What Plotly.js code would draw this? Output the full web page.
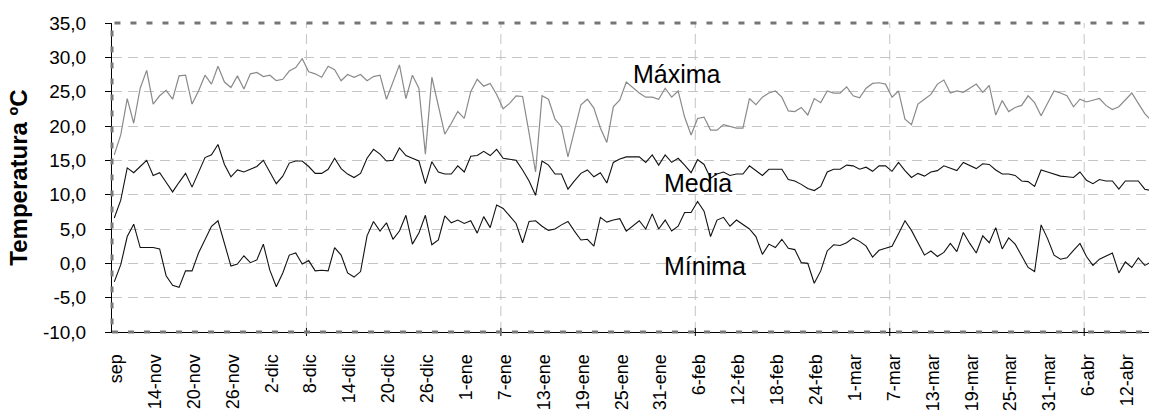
<!DOCTYPE html>
<html><head><meta charset="utf-8">
<script src="https://cdn.plot.ly/plotly-3.0.1.min.js"></script>
<style>html,body{margin:0;padding:0;background:#fff;}#chart{width:1149px;height:412px;}</style>
</head><body><div id="chart"></div>
<script>
// Day index from first date (labelled "sep")
const maxima = [15.8,18.7,24.0,20.4,25.5,28.1,23.2,24.4,25.2,23.9,
27.3,27.4,23.2,25.1,27.4,26.1,28.7,26.4,25.6,27.3,
25.4,27.6,27.8,27.2,27.4,26.6,26.8,28.0,28.5,29.8,
27.9,27.6,27.1,28.7,28.2,26.6,27.5,27.1,27.5,26.6,
27.2,27.4,23.9,26.4,28.9,24.0,27.4,25.5,15.9,27.1,
23.0,18.8,20.4,22.1,21.1,25.0,26.8,25.8,26.2,24.6,
22.5,23.3,24.4,24.3,19.0,13.3,24.4,23.9,21.0,19.9,
15.5,19.3,23.1,23.9,22.6,19.7,17.6,22.8,23.8,26.4,
25.6,24.8,24.2,24.2,23.9,25.5,24.2,25.1,21.3,18.7,
21.1,21.3,19.4,19.4,20.2,20.0,19.7,19.7,24.0,23.1,
24.2,24.8,25.1,24.2,22.2,22.1,22.7,21.6,24.0,23.4,
25.1,24.8,24.8,25.7,24.4,24.1,25.5,26.2,26.3,26.1,
24.2,25.1,21.0,20.2,23.2,23.9,24.6,26.1,26.7,24.8,
25.1,24.9,25.5,26.1,24.9,25.9,21.6,23.7,22.1,22.7,
23.0,24.4,23.4,21.5,23.3,25.1,24.8,24.4,22.8,23.9,
23.5,23.7,24.0,23.0,22.4,22.8,23.8,24.8,23.3,21.8,20.8];

const media = [6.6,9.2,13.9,13.2,14.1,15.0,12.8,13.2,11.8,10.4,
11.8,13.1,11.1,13.3,15.4,15.8,17.3,14.4,12.6,13.6,
13.3,13.7,14.1,15.0,13.3,11.6,12.7,14.6,14.9,14.9,
14.1,13.1,13.1,13.7,15.3,13.8,13.0,12.5,13.1,15.3,
16.6,15.9,14.9,15.0,16.8,15.7,15.3,14.9,11.6,14.8,
13.3,13.0,13.0,14.2,13.3,15.6,15.7,16.3,15.7,16.6,
15.3,15.1,15.0,13.6,12.0,9.9,14.9,14.3,13.0,13.0,
10.8,12.0,13.1,13.6,12.6,13.2,11.7,14.7,15.2,15.5,
15.5,15.5,14.7,15.8,14.3,15.8,14.7,15.3,14.3,13.2,
15.1,14.4,12.4,13.0,13.3,12.8,13.0,13.0,14.2,13.5,
12.8,13.7,13.7,13.7,12.2,12.0,11.5,10.9,10.6,11.2,
13.3,13.7,13.7,14.3,14.2,13.7,14.0,13.4,14.2,14.2,
13.4,14.7,13.5,12.5,13.1,12.7,13.3,13.5,14.2,13.8,
13.5,14.7,14.3,13.8,14.5,14.4,13.6,13.0,13.0,12.8,
12.0,11.9,11.2,13.6,13.3,13.0,12.7,12.6,12.5,13.3,
12.1,11.6,12.2,12.0,12.0,10.8,12.0,12.0,12.0,10.8,10.6];

const minima = [-2.7,-0.2,3.9,5.7,2.3,2.3,2.3,2.1,-1.8,-3.2,
-3.5,-1.1,-1.1,1.5,3.4,5.4,6.2,2.8,-0.4,-0.1,
1.1,0.1,0.5,2.8,-1.0,-3.4,-1.4,1.2,1.5,-0.1,
0.4,-1.1,-1.0,-1.1,2.3,1.2,-1.4,-2.0,-1.2,4.0,
6.1,4.7,5.9,3.5,4.7,7.0,2.8,4.4,7.0,2.7,
3.4,6.9,5.9,6.3,5.8,6.2,4.4,6.8,5.2,8.5,
8.0,6.9,5.8,3.0,6.1,6.2,5.4,4.8,5.0,5.6,
6.1,4.7,3.4,3.5,2.5,6.7,6.0,6.3,6.5,4.7,
5.5,6.2,5.0,7.2,5.0,6.3,4.7,5.4,7.4,7.4,
9.0,7.6,3.9,6.3,6.7,5.4,6.3,5.6,5.0,3.9,
1.3,2.8,2.3,3.5,2.2,2.0,0.1,0.0,-2.9,-1.1,
1.8,2.7,2.6,3.0,3.7,3.2,2.5,0.9,1.9,2.2,
2.5,4.3,6.2,4.8,3.1,1.2,1.8,1.0,1.6,2.9,
1.7,4.5,2.9,1.5,4.0,3.0,5.2,2.1,3.7,2.8,
1.1,-0.6,-1.2,5.6,3.6,1.2,0.6,0.8,1.9,2.9,
1.0,-0.3,0.6,1.0,1.5,-1.4,0.2,-0.6,0.8,-0.3,0.2];

const tickLabels = ["sep","14-nov","20-nov","26-nov","2-dic","8-dic","14-dic","20-dic","26-dic",
"1-ene","7-ene","13-ene","19-ene","25-ene","31-ene","6-feb","12-feb","18-feb","24-feb",
"1-mar","7-mar","13-mar","19-mar","25-mar","31-mar","6-abr","12-abr"];
const yTickValues = [-10, -5, 0, 5, 10, 15, 20, 25, 30, 35];
const yTickLabels = yTickValues.map(v => v.toFixed(1).replace(".", ","));
const tickStep = 6;      // days between labels
const gridStep = 30;     // days between vertical gridlines
const seriesNames = ["Máxima","Media","Mínima"];

const days = maxima.map((_, i) => i);
const off = -0.35;       // axis starts slightly before first day
const xEnd = 160 + off;
const labelShift = 0.65; // labels sit a little right of the tick
const tickVals = tickLabels.map((_, i) => i * tickStep + off + labelShift);
const gridVals = [];
for (let d = gridStep; d <= 160; d += gridStep) gridVals.push(d + off);

const font = "Liberation Sans, Arial, sans-serif";
const traces = [
  {x: days, y: maxima, name: seriesNames[0], mode: "lines", line: {color: "#8a8a8a", width: 1.2}},
  {x: days, y: media, name: seriesNames[1], mode: "lines", line: {color: "#111", width: 1.1}},
  {x: days, y: minima, name: seriesNames[2], mode: "lines", line: {color: "#111", width: 1.1}}
];

const shapes = [];
gridVals.forEach(v => {
  shapes.push({type: "line", xref: "x", yref: "paper", x0: v, x1: v, y0: 0, y1: 1,
    line: {color: "#c4c4c4", width: 1, dash: "10px,6px"}, layer: "below"});
  shapes.push({type: "line", xref: "x", yref: "paper", x0: v, x1: v, y0: -0.013, y1: 0.013,
    line: {color: "#000", width: 1}, layer: "above"});
});
shapes.push({type: "rect", xref: "paper", yref: "paper", x0: 0, x1: 1.02, y0: 0, y1: 1,
  line: {color: "#777", width: 3, dash: "6px,10px"}, layer: "above"});

const layout = {
  width: 1149, height: 412,
  margin: {l: 112, r: 0, t: 23, b: 80, autoexpand: false},
  paper_bgcolor: "#fff", plot_bgcolor: "#fff",
  showlegend: false,
  font: {family: font, color: "#000"},
  xaxis: {
    range: [off, xEnd], tickmode: "array", tickvals: tickVals, ticktext: tickLabels,
    tickangle: -90, tickfont: {size: 18, family: font}, showgrid: false, zeroline: false,
    showline: true, linecolor: "#000", linewidth: 1, ticks: "", ticklabelstandoff: 14,
    automargin: false
  },
  yaxis: {
    range: [-10, 35], tickmode: "array", tickvals: yTickValues, ticktext: yTickLabels,
    tickfont: {size: 19, family: font}, showgrid: true, gridcolor: "#c4c4c4", gridwidth: 1,
    griddash: "10px,6px", zeroline: false, showline: true, linecolor: "#000", linewidth: 1,
    ticks: "outside", ticklen: 6, tickcolor: "#000", ticklabelstandoff: 15, automargin: false,
    title: {text: "Temperatura ºC", font: {size: 24, family: font, weight: "bold"}, standoff: 8}
  },
  shapes: shapes,
  annotations: [
    {x: 86.8, y: 27.6, xref: "x", yref: "y", text: seriesNames[0], showarrow: false, font: {size: 25, family: font, color: "#000"}},
    {x: 90.1, y: 11.7, xref: "x", yref: "y", text: seriesNames[1], showarrow: false, font: {size: 25, family: font, color: "#000"}},
    {x: 91.2, y: -0.4, xref: "x", yref: "y", text: seriesNames[2], showarrow: false, font: {size: 25, family: font, color: "#000"}}
  ]
};
Plotly.newPlot("chart", traces, layout, {staticPlot: true, displayModeBar: false});
</script></body></html>
